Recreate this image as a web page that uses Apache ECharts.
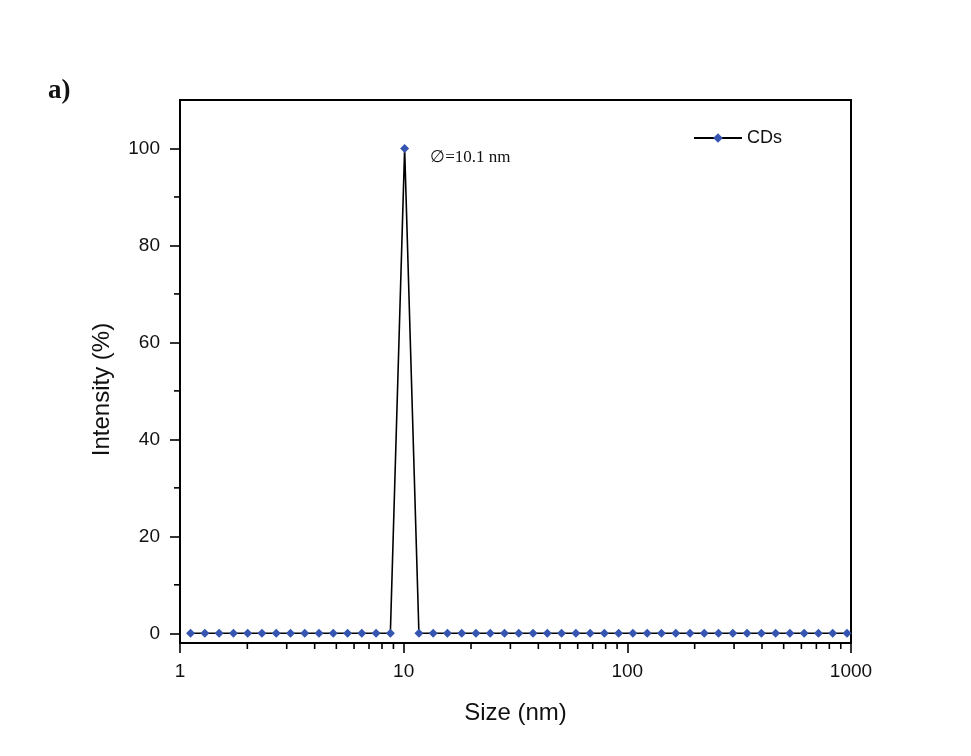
<!DOCTYPE html>
<html>
<head>
<meta charset="utf-8">
<script src="https://cdn.jsdelivr.net/npm/echarts@6/dist/echarts.min.js"></script>
<style>
	html, body { margin: 0; padding: 0; background: #fff; }
	#chart { width: 971px; height: 756px; }
</style>
</head>
<body>
<div id="chart"></div>
<script>
	// particle size bins (nm)
	var sizeNm = [1.115, 1.291, 1.496, 1.733, 2.007, 2.325, 2.693, 3.119, 3.612, 4.183,
		4.845, 5.612, 6.500, 7.528, 8.719, 10.10, 11.70, 13.55, 15.69, 18.18,
		21.05, 24.38, 28.24, 32.71, 37.88, 43.88, 50.82, 58.86, 68.17, 78.96,
		91.45, 105.9, 122.7, 142.1, 164.6, 190.6, 220.8, 255.7, 296.2, 343.1,
		397.4, 460.3, 533.1, 617.5, 715.2, 828.4, 959.6];
	var intensity = [0, 0, 0, 0, 0, 0, 0, 0, 0, 0,
		0, 0, 0, 0, 0, 100, 0, 0, 0, 0,
		0, 0, 0, 0, 0, 0, 0, 0, 0, 0,
		0, 0, 0, 0, 0, 0, 0, 0, 0, 0,
		0, 0, 0, 0, 0, 0, 0];

	var xMajor = [1, 10, 100, 1000];
	var xMinor = [2, 3, 4, 5, 6, 7, 8, 9, 20, 30, 40, 50, 60, 70, 80, 90, 200, 300, 400, 500, 600, 700, 800, 900];
	var yMajor = [0, 20, 40, 60, 80, 100];
	var yMinor = [10, 30, 50, 70, 90];

	var X_MIN = 1, X_MAX = 1000, Y_MIN = -2, Y_MAX = 110;
	var peakLabel = '\u2205=10.1 nm';

	var lineData = [];
	for (var i = 0; i < sizeNm.length; i++) {
		var item = { value: [sizeNm[i], intensity[i]] };
		if (intensity[i] == 100) {
			item.label = {
				show: true,
				position: 'right',
				offset: [16, 9],
				formatter: peakLabel,
				fontFamily: 'Liberation Serif',
				fontSize: 17,
				color: '#111'
			};
		}
		lineData.push(item);
	}

	var xMinorData = xMinor.map(function(v) { return [v, Y_MIN]; });
	var yMinorData = yMinor.map(function(v) { return [X_MIN, v]; });

	// short outward minor ticks
	function tickRender(dx, dy) {
		return function(params, api) {
			var p = api.coord([api.value(0), api.value(1)]);
			return {
				type: 'line',
				shape: { x1: p[0], y1: p[1], x2: p[0] + dx, y2: p[1] + dy },
				style: { stroke: '#000', lineWidth: 1.6 }
			};
		};
	}

	var chart = echarts.init(document.getElementById('chart'), null, { renderer: 'canvas' });
	chart.setOption({
		backgroundColor: '#fff',
		animation: false,
		title: {
			text: 'a)',
			left: 43,
			top: 73,
			textStyle: { fontFamily: 'Liberation Serif', fontWeight: 'bold', fontSize: 27, color: '#111' }
		},
		legend: {
			data: ['CDs'],
			left: 688,
			top: 124,
			itemWidth: 48,
			itemHeight: 12,
			itemGap: 6,
			textStyle: { fontFamily: 'Liberation Sans', fontSize: 18, color: '#111' }
		},
		grid: {
			left: 180,
			right: 120,
			top: 100,
			bottom: 113,
			show: true,
			borderColor: '#000',
			borderWidth: 2,
			backgroundColor: 'transparent'
		},
		xAxis: {
			type: 'log',
			logBase: 10,
			min: X_MIN,
			max: X_MAX,
			name: 'Size (nm)',
			nameLocation: 'middle',
			nameGap: 58,
			nameTextStyle: { fontFamily: 'Liberation Sans', fontSize: 24, color: '#111' },
			axisLine: { onZero: false, lineStyle: { color: '#000', width: 2 } },
			axisTick: { show: true, inside: false, length: 10, customValues: xMajor, lineStyle: { color: '#000', width: 1.6 } },
			axisLabel: {
				customValues: xMajor,
				margin: 19,
				fontFamily: 'Liberation Sans',
				fontSize: 19,
				color: '#111',
				formatter: function(v) { return String(v); }
			},
			splitLine: { show: false },
			minorTick: { show: false }
		},
		yAxis: {
			type: 'value',
			min: Y_MIN,
			max: Y_MAX,
			name: 'Intensity (%)',
			nameLocation: 'middle',
			nameGap: 66,
			nameRotate: 90,
			nameTextStyle: { fontFamily: 'Liberation Sans', fontSize: 24, color: '#111', padding: [0, 36, 0, 0] },
			axisLine: { lineStyle: { color: '#000', width: 2 } },
			axisTick: { show: true, inside: false, length: 10, customValues: yMajor, lineStyle: { color: '#000', width: 1.6 } },
			axisLabel: { customValues: yMajor, margin: 20, fontFamily: 'Liberation Sans', fontSize: 19, color: '#111' },
			splitLine: { show: false }
		},
		series: [
			{
				name: 'CDs',
				type: 'line',
				data: lineData,
				symbol: 'diamond',
				symbolSize: 9,
				showAllSymbol: true,
				itemStyle: { color: '#3555b0' },
				lineStyle: { color: '#000', width: 1.6 },
				z: 3
			},
			{
				type: 'custom',
				data: xMinorData,
				renderItem: tickRender(0, 6),
				clip: false,
				silent: true
			},
			{
				type: 'custom',
				data: yMinorData,
				renderItem: tickRender(-6, 0),
				clip: false,
				silent: true
			}
		]
	});
</script>
</body>
</html>
